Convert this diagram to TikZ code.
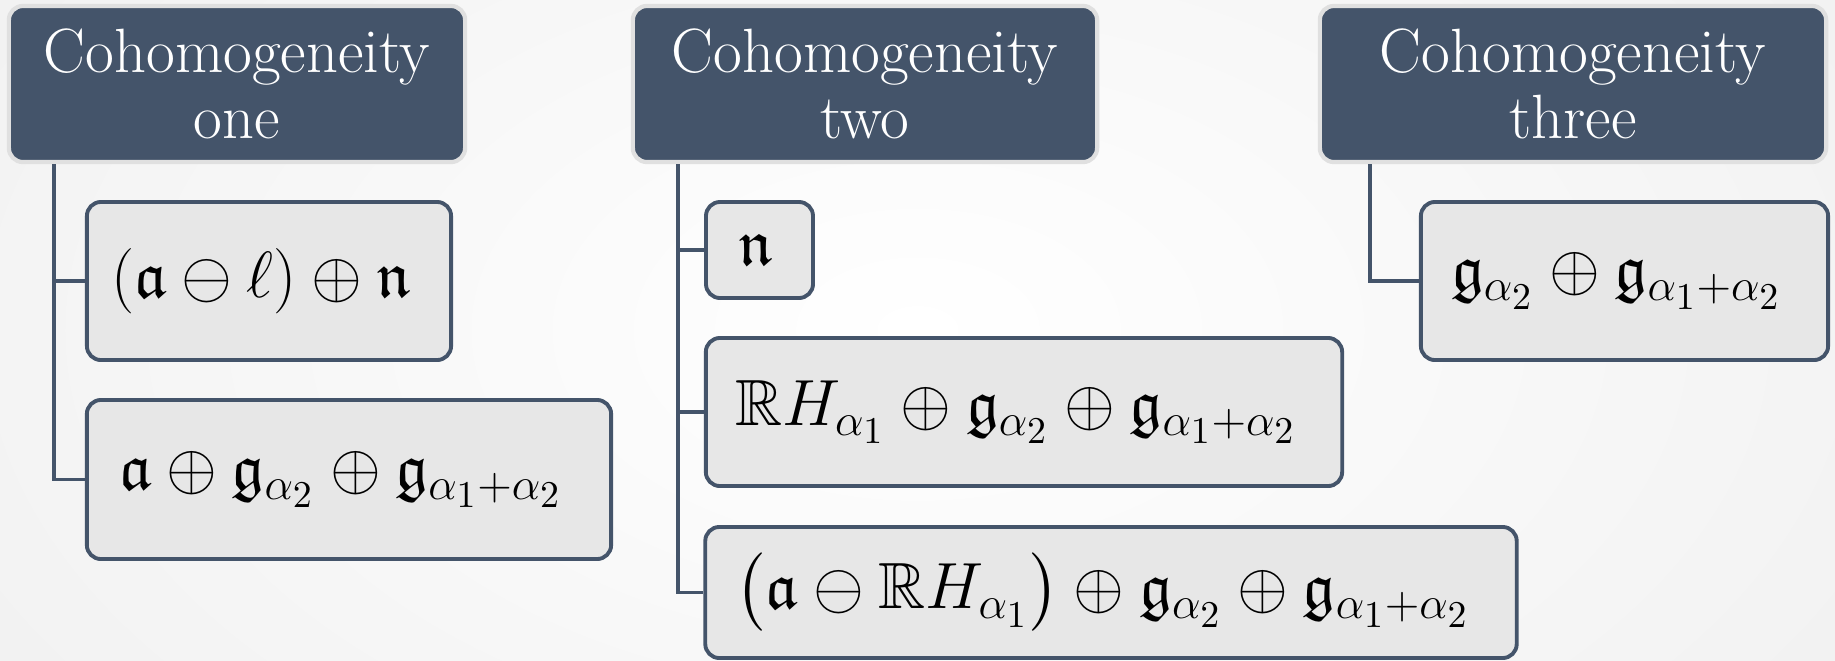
\documentclass[tikz,border=0pt]{standalone}
\usepackage{amsmath,amssymb,graphicx}
\usetikzlibrary{positioning}
\definecolor{hdr}{HTML}{44546A}
\definecolor{kid}{HTML}{E7E7E7}
\definecolor{bgout}{HTML}{F0F0F0}
\newcommand{\mymath}[1]{\scalebox{1.075}{$#1$}\hspace*{4.5pt}}
\tikzset{
  hdrbox/.style={draw=white!88!black, line width=1.2pt, fill=hdr, rounded corners=4pt,
    text=white, align=center, inner sep=0pt,
    font=\fontsize{17.8}{18.6}\selectfont},
  kidbox/.style={draw=hdr, line width=1.1pt, fill=kid, rounded corners=4pt,
    text=black, inner sep=0pt, font=\fontsize{17.28}{20}\selectfont},
  link/.style={draw=hdr, line width=1.1pt},
}
\begin{document}
\begin{tikzpicture}[x=0.01cm, y=-0.01cm]
\useasboundingbox (0,0) rectangle (1835,660);
\shade[inner color=white, outer color=bgout] (-300,-400) rectangle (2135,1060);
% headers
\node[hdrbox, minimum width=4.56cm, minimum height=1.56cm] (h1) at (237,84) {Cohomogeneity\\one};
\node[hdrbox, minimum width=4.64cm, minimum height=1.56cm] (h2) at (865,84) {Cohomogeneity\\two};
\node[hdrbox, minimum width=5.06cm, minimum height=1.56cm] (h3) at (1573,84) {Cohomogeneity\\three};
% column 1 children
\node[kidbox, minimum width=3.64cm, minimum height=1.58cm] (c1a) at (269,281)
  {\mymath{(\mathfrak{a}\ominus\ell)\oplus\mathfrak{n}}};
\node[kidbox, minimum width=5.24cm, minimum height=1.59cm] (c1b) at (349,479.5)
  {\mymath{\mathfrak{a}\oplus\mathfrak{g}_{\alpha_2}\oplus\mathfrak{g}_{\alpha_1+\alpha_2}}};
% column 2 children
\node[kidbox, minimum width=1.07cm, minimum height=0.96cm] (c2a) at (759.5,250)
  {\scalebox{1.075}{$\mathfrak{n}$}\hspace*{2pt}};
\node[kidbox, minimum width=6.36cm, minimum height=1.48cm] (c2b) at (1024,412)
  {\mymath{\mathbb{R}H_{\alpha_1}\oplus\mathfrak{g}_{\alpha_2}\oplus\mathfrak{g}_{\alpha_1+\alpha_2}}};
\node[kidbox, minimum width=8.11cm, minimum height=1.31cm] (c2c) at (1111,592.5)
  {\mymath{\bigl(\mathfrak{a}\ominus\mathbb{R}H_{\alpha_1}\bigr)\oplus\mathfrak{g}_{\alpha_2}\oplus\mathfrak{g}_{\alpha_1+\alpha_2}}};
% column 3 child
\node[kidbox, minimum width=4.07cm, minimum height=1.58cm] (c3a) at (1624.5,281)
  {\mymath{\mathfrak{g}_{\alpha_2}\oplus\mathfrak{g}_{\alpha_1+\alpha_2}}};
% connectors
\coordinate (t1) at (54,0);
\coordinate (t2) at (678,0);
\coordinate (t3) at (1370,0);
\draw[link] (h1.south -| t1) |- (c1a.west);
\draw[link] (h1.south -| t1) |- (c1b.west);
\draw[link] (h2.south -| t2) |- (c2a.west);
\draw[link] (h2.south -| t2) |- (c2b.west);
\draw[link] (h2.south -| t2) |- (c2c.west);
\draw[link] (h3.south -| t3) |- (c3a.west);
\end{tikzpicture}
\end{document}
